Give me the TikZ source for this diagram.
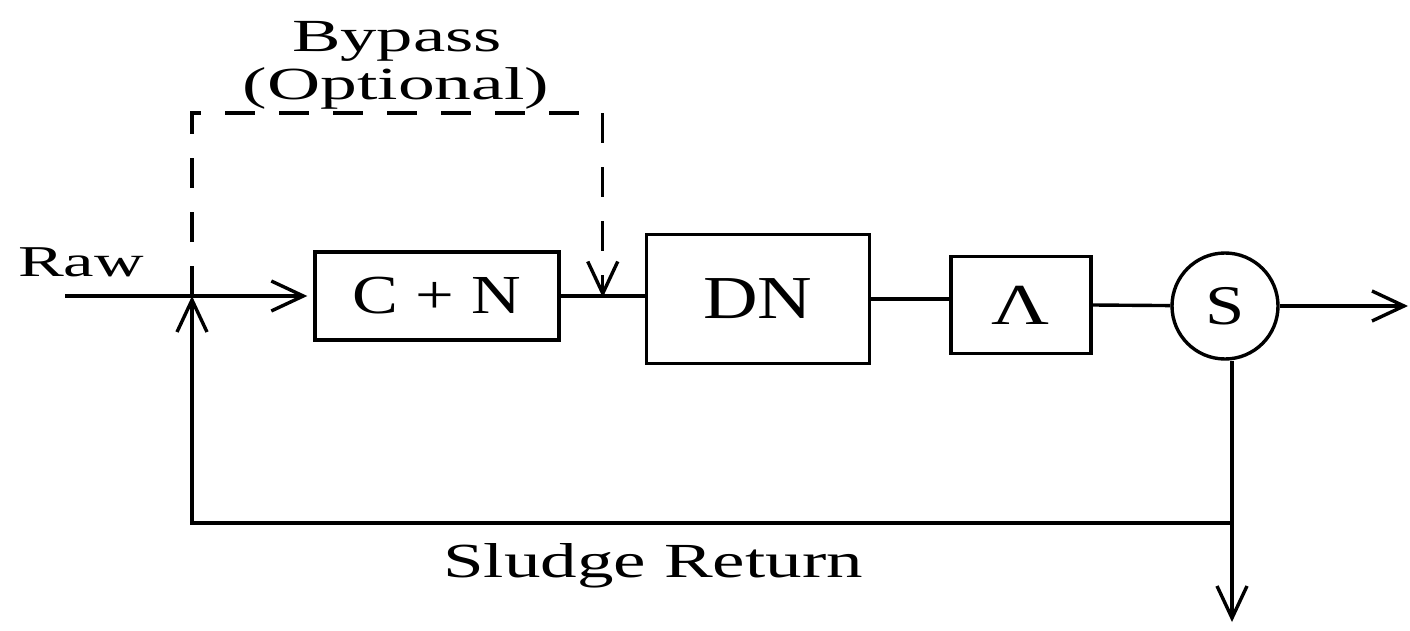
\documentclass[tikz,border=0pt]{standalone}
\usepackage{fontspec}
\setmainfont{Liberation Serif}
\usepackage{graphicx}
\usetikzlibrary{arrows.meta,calc}
% size, horizontal stretch, text
\newcommand\stretchtext[3]{\scalebox{#2}[1]{\fontsize{#1}{#1}\selectfont #3}}
\begin{document}
\begin{tikzpicture}[x=1pt,y=-1pt,
  flow/.style={line width=3.4pt},
  arr/.style={flow,-{Straight Barb[length=32pt,width=30pt]}},
  unit/.style={draw,line width=3.4pt,inner sep=0pt},
  bypass/.style={flow,dash pattern=on 30pt off 24pt},
  lbl/.style={inner sep=0pt,anchor=base}]
\useasboundingbox (0,0) rectangle (1410,631);

% process units
\node[unit,minimum width=244pt,minimum height=88pt] (cn) at (437,296)
  {\stretchtext{55pt}{1.25}{C + N}};
\node[unit,minimum width=223pt,minimum height=129pt] (dn) at (758,299)
  {\stretchtext{61pt}{1.24}{DN}};
\node[unit,minimum width=140pt,minimum height=97pt] (lam) at (1021,305)
  {\stretchtext{58pt}{1.38}{Λ}};
\node[unit,circle,minimum size=106pt] (s) at (1225,306)
  {\stretchtext{56pt}{1.26}{S}};

% free ends and junctions
\coordinate (rawin) at (65,296);
\coordinate (jn) at (192,296);
\coordinate (byin) at ($(cn.east)!0.5!(dn.west)$);
\coordinate (product) at (1408,306);
\coordinate (split) at (1232,523);
\coordinate (waste) at (1232,622);

% main flow
\draw[arr,shorten >=6pt] (rawin) -- (cn.west);
\draw[flow] (cn.east) -- (cn.east -| dn.west);
\draw[flow] (dn.east) -- (dn.east -| lam.west);
\draw[flow] (lam.east) -- (s);
\draw[arr] (s.east) -- (product);

% sludge line and return
\draw[arr] ([xshift=7pt]s.south) -- (waste);
\draw[arr] (split) -| (jn);

% optional bypass
\draw[bypass,-{Straight Barb[length=32pt,width=30pt]}] (jn) -- ++(0,-183) -| (byin);

% labels
\node[lbl,anchor=base west] (raw) at (18,276) {\stretchtext{44pt}{1.56}{Raw}};
\node[lbl] (bp) at (397,52) {\stretchtext{46pt}{1.58}{Bypass}};
\node[lbl] (opt) at (396,100) {\stretchtext{46pt}{1.6}{(Optional)}};
\node[lbl] (ret) at (653,577) {\stretchtext{49pt}{1.49}{Sludge Return}};
\end{tikzpicture}
\end{document}
